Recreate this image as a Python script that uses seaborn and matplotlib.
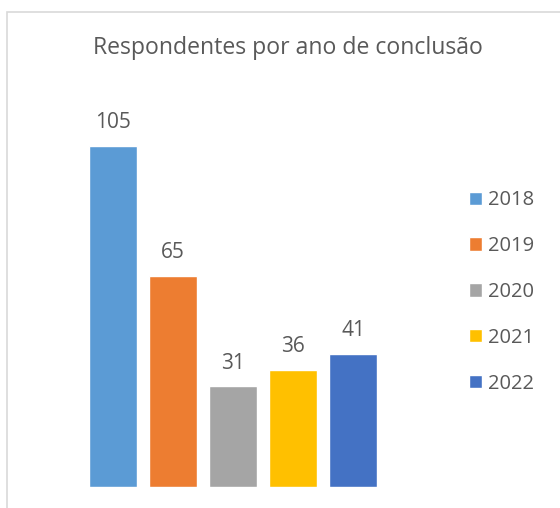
import matplotlib
matplotlib.use("Agg")
import matplotlib.pyplot as plt
import seaborn as sns
import pandas as pd
from matplotlib.patches import Rectangle

years = ["2018", "2019", "2020", "2021", "2022"]
values = [105, 65, 31, 36, 41]
colors = ["#5B9BD5", "#ED7D31", "#A5A5A5", "#FFC000", "#4472C4"]
title = "Respondentes por ano de conclusão"

sns.set_theme(style="white")
plt.rcParams["font.family"] = ["Open Sans", "DejaVu Sans"]
txt = "#595959"

df = pd.DataFrame({"ano": years, "n": values})

W, H = 560, 508
fig = plt.figure(figsize=(5.6, 5.08), dpi=100)
# axes: x from 83 to 383 px, y from 97 to 487 px
ax = fig.add_axes([83 / W, (H - 487) / H, 300 / W, 390 / H])
sns.barplot(data=df, x="ano", y="n", hue="ano", palette=colors,
            width=0.8, dodge=False, legend=True, ax=ax, saturation=1)
ax.set_xlim(-0.5, 4.5)
ax.set_ylim(0, 120)
for s in ax.spines.values():
    s.set_visible(False)
ax.set_xticks([])
ax.set_yticks([])
ax.set_xlabel("")
ax.set_ylabel("")
for c in ax.containers:
    ax.bar_label(c, padding=9, fontsize=15, color=txt)

sns.move_legend(ax, "center left", bbox_to_anchor=(451 / W, (H - 292) / H),
                bbox_transform=fig.transFigure, frameon=False, title=None,
                fontsize=14.5, labelcolor=txt, handlelength=0.65,
                handleheight=0.65, handletextpad=0.3, labelspacing=1.28)

fig.text(288 / W, (H - 48) / H, title, ha="center", va="center",
         fontsize=16.6, color=txt)

fig.patches.append(Rectangle((7 / W, -0.1), 1.2, (H - 12) / H + 0.1,
                             transform=fig.transFigure, fill=False,
                             edgecolor="#D9D9D9", linewidth=1.2))

fig.savefig("out.png", dpi=100)
